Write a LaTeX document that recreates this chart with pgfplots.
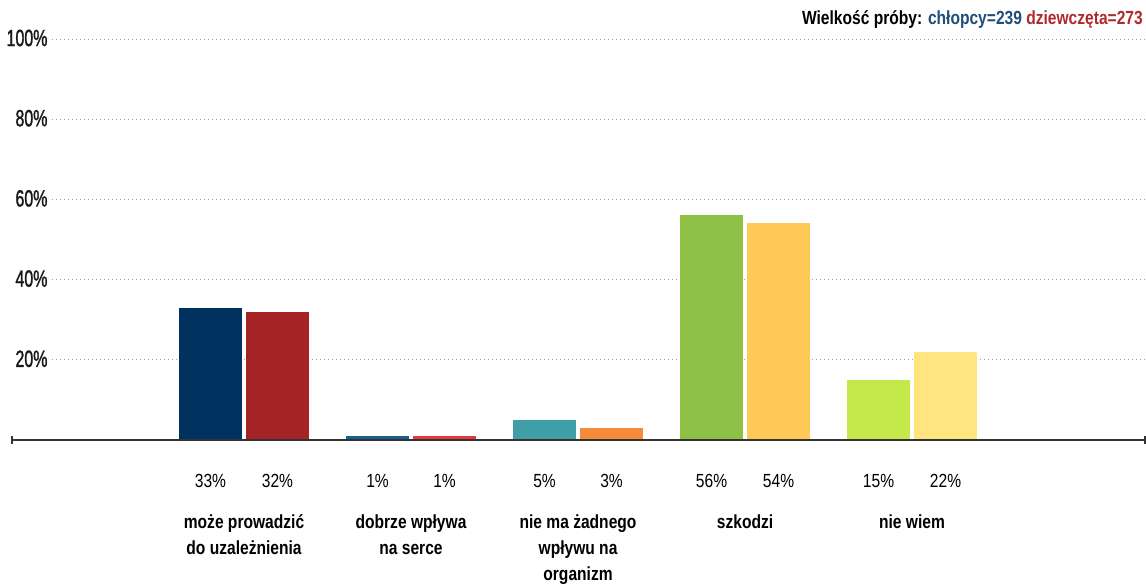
\documentclass[border=0pt]{standalone}
\usepackage{pgfplots}
\pgfplotsset{compat=1.18}
\usepackage{fontspec}
\setmainfont[FakeStretch=0.82]{Liberation Sans}
\newfontfamily\tickfont[FakeStretch=0.68, FakeBold=1.2]{Liberation Sans}
\definecolor{c1}{HTML}{00325F}
\definecolor{c2}{HTML}{A52325}
\definecolor{c3}{HTML}{1A5F8D}
\definecolor{c4}{HTML}{E23A3A}
\definecolor{c5}{HTML}{3F9EA6}
\definecolor{c6}{HTML}{F68B3C}
\definecolor{c7}{HTML}{8DC044}
\definecolor{c8}{HTML}{FEC957}
\definecolor{c9}{HTML}{C5E84B}
\definecolor{c10}{HTML}{FFE57F}
\definecolor{hb}{HTML}{1F4E7A}
\definecolor{hr}{HTML}{B0292B}
\newcommand\cat[1]{\raisebox{-41pt}{\bfseries\fontsize{19}{26}\selectfont\begin{tabular}[t]{@{}c@{}}#1\end{tabular}}}
\begin{document}
\begin{tikzpicture}
\useasboundingbox (0,0) rectangle (1146pt,585pt);
\begin{axis}[
  at={(52pt,145pt)}, anchor=south west,
  scale only axis, width=1093pt, height=401pt,
  xmin=-1.1497, xmax=5.395, ymin=0, ymax=100,
  clip=false,
  axis line style={draw=none},
  major tick length=0pt,
  ytick={20,40,60,80,100},
  yticklabels={20\%,40\%,60\%,80\%,100\%},
  yticklabel style={anchor=east, xshift=-1pt, yshift=1pt, font=\tickfont\fontsize{23.5}{23.5}\selectfont, text=black!90},
  ymajorgrids,
  grid style={gray!75, line width=0.8pt, dash pattern=on 1pt off 3pt},
  xtick={-0.2006,0.2006,0.7994,1.2006,1.7994,2.2006,2.7994,3.2006,3.7994,4.2006},
  xticklabels={33\%,32\%,1\%,1\%,5\%,3\%,56\%,54\%,15\%,22\%},
  xticklabel style={anchor=base, yshift=-48pt, font=\fontsize{19}{19}\selectfont},
  extra x ticks={0,1,2,3,4},
  extra x tick labels={\cat{może prowadzić\\do uzależnienia}, \cat{dobrze wpływa\\na serce}, \cat{nie ma żadnego\\wpływu na\\organizm}, \cat{szkodzi}, \cat{nie wiem}},
  extra x tick style={grid=none, major tick length=0pt},
]
\addplot[ybar, fill=c1, draw=none, bar width=63pt, bar shift=-33.5pt] coordinates {(0,33)};
\addplot[ybar, fill=c2, draw=none, bar width=63pt, bar shift=33.5pt] coordinates {(0,32)};
\addplot[ybar, fill=c3, draw=none, bar width=63pt, bar shift=-33.5pt] coordinates {(1,1)};
\addplot[ybar, fill=c4, draw=none, bar width=63pt, bar shift=33.5pt] coordinates {(1,1)};
\addplot[ybar, fill=c5, draw=none, bar width=63pt, bar shift=-33.5pt] coordinates {(2,5)};
\addplot[ybar, fill=c6, draw=none, bar width=63pt, bar shift=33.5pt] coordinates {(2,3)};
\addplot[ybar, fill=c7, draw=none, bar width=63pt, bar shift=-33.5pt] coordinates {(3,56)};
\addplot[ybar, fill=c8, draw=none, bar width=63pt, bar shift=33.5pt] coordinates {(3,54)};
\addplot[ybar, fill=c9, draw=none, bar width=63pt, bar shift=-33.5pt] coordinates {(4,15)};
\addplot[ybar, fill=c10, draw=none, bar width=63pt, bar shift=33.5pt] coordinates {(4,22)};
\draw[line width=1.6pt, color=black!80] (axis cs:-1.389,0) -- (axis cs:5.395,0);
\draw[line width=1.2pt, color=black!80] ([yshift=-4pt]axis cs:-1.389,0) -- ([yshift=4pt]axis cs:-1.389,0);
\draw[line width=1.2pt, color=black!80] ([yshift=-4pt]axis cs:5.395,0) -- ([yshift=4pt]axis cs:5.395,0);
\end{axis}
\node[anchor=east, font=\bfseries\fontsize{19}{19}\selectfont, inner sep=0pt] at (1143pt,565pt)
  {Wielkość próby: \textcolor{hb}{chłopcy=239} \textcolor{hr}{dziewczęta=273}};
\end{tikzpicture}
\end{document}
